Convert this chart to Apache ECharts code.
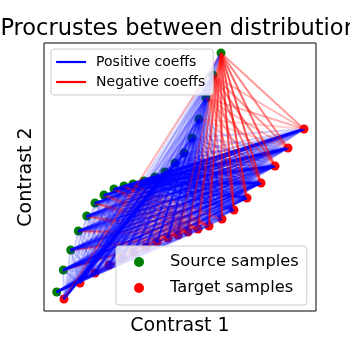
<!DOCTYPE html>
<html>
<head>
<meta charset="utf-8">
<script src="https://cdn.jsdelivr.net/npm/echarts@6/dist/echarts.min.js"></script>
<style>html,body{margin:0;padding:0;background:#fff}#c{width:350px;height:350px}</style>
</head>
<body>
<div id="c"></div>
<script>
// Source samples (Contrast 1, Contrast 2)
const srcX = [12.7, 19.3, 26.7, 34.3, 42.7, 51, 60, 70, 80, 89, 100, 111, 121, 131, 140, 148, 155, 162, 169, 177];
const srcY = [19, 41, 61, 80, 95, 108, 116, 122, 125, 127, 130, 134, 139, 148, 158, 173, 192, 213, 236, 258];
// Target samples
const tgtX = [20, 36, 51, 65, 78, 90, 102, 113, 124, 134, 144, 154, 165, 178, 190, 203, 217, 231, 244, 260];
const tgtY = [12, 28, 38, 46, 53, 59, 64, 69, 73, 76, 79, 82, 85, 92, 101, 113, 128, 145, 163, 182];
// Coefficients between source i (rows) and target j (columns)
const coeffs = [
  [0.3,0.2,0.1,0.1,-0.1,-0.1,-0.2,-0.2,-0.2,-0.1,0.1,0.2,0.3,0.4,0.5,0.8,0.6,0.4,0.3,0.3],
  [0.2,0.2,0.1,0.1,0.1,-0.1,-0.2,-0.2,-0.3,-0.2,-0.1,0.1,0.2,0.3,0.5,0.6,0.9,0.5,0.4,0.3],
  [0.2,0.2,0.2,0.1,0.1,0.1,-0.1,-0.2,-0.3,-0.3,-0.2,0.1,0.2,0.3,0.4,0.5,0.8,0.7,0.4,0.3],
  [0.2,0.1,0.2,0.2,0.1,0.1,0.1,-0.1,-0.2,-0.3,-0.3,-0.2,0.1,0.2,0.3,0.5,0.6,0.8,0.5,0.4],
  [0.2,0.1,0.1,0.2,0.2,0.1,0.1,0.1,-0.2,-0.3,-0.3,-0.2,0.1,0.2,0.3,0.4,0.5,0.6,0.8,0.6],
  [0.2,0.1,0.1,0.1,0.2,0.2,0.1,0.1,-0.1,-0.2,-0.3,-0.3,-0.2,0.1,0.2,0.3,0.4,0.5,0.7,0.9],
  [0.2,0.1,0.1,0.1,0.1,0.2,0.2,0.1,0.1,-0.2,-0.3,-0.3,-0.2,0.1,0.2,0.3,0.4,0.6,0.8,0.7],
  [0.3,0.1,0.1,0.1,0.1,0.1,0.2,0.2,0.1,-0.1,-0.2,-0.3,-0.3,-0.1,0.2,0.3,0.5,0.7,0.7,0.6],
  [0.3,0.2,0.1,0.1,0.1,0.1,0.1,0.2,0.2,0.1,-0.2,-0.3,-0.3,-0.2,0.2,0.4,0.6,0.7,0.6,0.5],
  [0.4,0.2,0.1,0.1,0.1,0.1,0.1,0.1,0.2,0.2,0.1,-0.2,-0.3,-0.2,0.3,0.5,0.6,0.6,0.5,0.5],
  [0.5,0.3,0.2,0.1,0.1,0.1,0.1,0.1,0.1,0.2,0.2,0.1,-0.2,0.2,0.4,0.5,0.6,0.5,0.5,0.4],
  [0.7,0.4,0.2,0.1,0.1,0.1,0.1,0.1,0.1,0.1,0.2,0.2,0.2,0.3,0.4,0.5,0.5,0.5,0.4,0.4],
  [0.9,0.5,0.3,0.2,0.1,0.1,0.1,0.1,0.1,0.1,0.2,0.2,0.3,0.4,0.4,0.5,0.5,0.4,0.4,0.3],
  [0.7,0.5,0.3,0.2,0.1,0.1,0.1,0.1,0.1,0.2,0.2,0.3,0.3,0.4,0.4,0.4,0.4,0.4,0.3,0.3],
  [0.5,0.4,0.3,0.2,0.2,0.1,0.1,0.1,0.2,0.2,0.3,0.3,0.3,0.4,0.4,0.4,0.4,0.3,0.3,0.2],
  [0.3,0.3,0.2,0.2,0.2,0.2,0.1,0.2,0.2,0.3,0.3,0.3,0.4,0.4,0.4,0.3,0.3,0.3,0.2,0.2],
  [0.2,0.2,0.2,0.2,0.2,0.2,0.2,0.2,0.3,0.3,0.3,0.4,0.4,0.3,0.3,0.3,0.2,0.2,-0.2,-0.2],
  [0.2,0.2,0.2,0.2,0.2,0.2,0.2,0.3,0.3,0.3,0.4,0.3,0.3,0.3,0.2,-0.2,-0.3,-0.3,-0.3,-0.3],
  [0.1,0.2,0.2,0.2,0.2,0.2,0.3,0.3,0.3,0.3,0.3,-0.2,-0.3,-0.3,-0.4,-0.4,-0.5,-0.5,-0.4,-0.3],
  [-0.3,0.1,0.2,0.2,0.2,0.2,0.2,0.2,0.2,-0.3,-0.4,-0.5,-0.6,-0.6,-0.7,-0.7,-0.7,-0.6,-0.5,-0.4]
];
const POS = '#0000ff', NEG = '#ff0000';

const lineData = [];
for (let i = 0; i < srcX.length; i++) {
  for (let j = 0; j < tgtX.length; j++) {
    const c = coeffs[i][j];
    if (!c) continue;
    lineData.push({
      coords: [[srcX[i], srcY[i]], [tgtX[j], tgtY[j]]],
      lineStyle: { color: c > 0 ? POS : NEG, opacity: Math.abs(c) }
    });
  }
}
const srcData = srcX.map((x, i) => [x, srcY[i]]);
const tgtData = tgtX.map((x, i) => [x, tgtY[i]]);

const chart = echarts.init(document.getElementById('c'), null, { renderer: 'canvas' });
const FONT = 'DejaVu Sans';
chart.setOption({
  animation: false,
  textStyle: { fontFamily: FONT },
  title: {
    text: 'Procrustes between distributions',
    left: 180, top: 13, textAlign: 'center',
    textStyle: { fontFamily: FONT, fontSize: 22.5, fontWeight: 'normal', color: '#000' }
  },
  grid: { left: 44, right: 34, top: 43, bottom: 39, show: true, borderColor: '#000', borderWidth: 1, backgroundColor: 'transparent' },
  xAxis: {
    type: 'value', min: 0, max: 272,
    axisLine: { show: false }, axisTick: { show: false }, axisLabel: { show: false }, splitLine: { show: false },
    name: 'Contrast 1', nameLocation: 'middle', nameGap: 6,
    nameTextStyle: { fontFamily: FONT, fontSize: 19, color: '#000' }
  },
  yAxis: {
    type: 'value', min: 0, max: 268,
    axisLine: { show: false }, axisTick: { show: false }, axisLabel: { show: false }, splitLine: { show: false },
    name: 'Contrast 2', nameLocation: 'middle', nameGap: 8, nameRotate: 90,
    nameTextStyle: { fontFamily: FONT, fontSize: 19, color: '#000' }
  },
  legend: [
    {
      orient: 'vertical', left: 51, top: 49,
      data: ['Positive coeffs', 'Negative coeffs'],
      itemWidth: 30, itemHeight: 14, itemGap: 6,
      padding: [6, 8, 6, 4],
      itemStyle: { opacity: 0 },
      lineStyle: { width: 2.2 },
      backgroundColor: 'rgba(255,255,255,0.8)', borderColor: '#cccccc', borderWidth: 1, borderRadius: 3,
      textStyle: { fontFamily: FONT, fontSize: 14, color: '#000', padding: [0, 0, 0, 5] },
      z: 10
    },
    {
      orient: 'vertical', left: 116, top: 246,
      data: [{ name: 'Source samples', icon: 'circle' }, { name: 'Target samples', icon: 'circle' }],
      itemWidth: 10, itemHeight: 10, itemGap: 8,
      padding: [7, 8, 8, 18],
      backgroundColor: 'rgba(255,255,255,0.8)', borderColor: '#cccccc', borderWidth: 1, borderRadius: 3,
      textStyle: { fontFamily: FONT, fontSize: 16.3, lineHeight: 18, color: '#000', padding: [0, 0, 0, 21] },
      z: 10
    }
  ],
  series: [
    { name: 'Source samples', type: 'scatter', data: srcData, symbolSize: 9, itemStyle: { color: '#008000', opacity: 1 }, z: 1 },
    { name: 'Target samples', type: 'scatter', data: tgtData, symbolSize: 9, itemStyle: { color: '#ff0000', opacity: 1 }, z: 1 },
    { name: 'coeffs', type: 'lines', coordinateSystem: 'cartesian2d', data: lineData, lineStyle: { width: 2 }, z: 2, silent: true },
    { name: 'Positive coeffs', type: 'line', data: [], symbol: 'none', lineStyle: { color: POS, width: 2.2 }, itemStyle: { color: POS } },
    { name: 'Negative coeffs', type: 'line', data: [], symbol: 'none', lineStyle: { color: NEG, width: 2.2 }, itemStyle: { color: NEG } }
  ]
});
</script>
</body>
</html>
